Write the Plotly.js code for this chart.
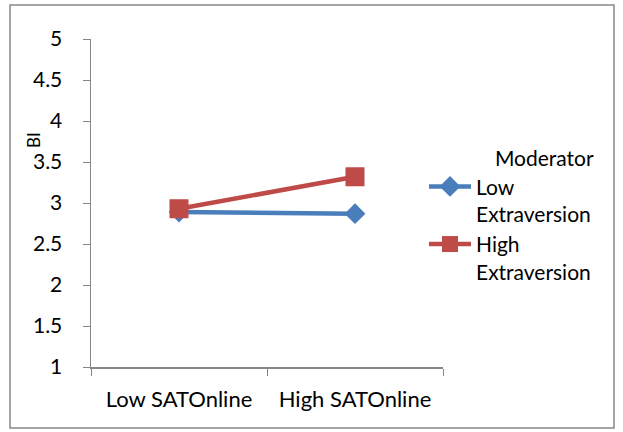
<!DOCTYPE html>
<html>
<head>
<meta charset="utf-8">
<script src="https://cdn.plot.ly/plotly-3.0.1.min.js"></script>
<style>
  html, body { margin: 0; padding: 0; background: #ffffff; }
  #chart { width: 623px; height: 432px; }
</style>
</head>
<body>
<div id="chart"></div>
<script>
// Interaction plot: behavioural intention (BI) by SAT Online level, moderated by extraversion
var categories = ["Low SATOnline", "High SATOnline"];
var lowExtraversion = [2.89, 2.87];
var highExtraversion = [2.93, 3.32];
var seriesNames = ["Low<br>Extraversion", "High<br>Extraversion"];
var yTicks = [1, 1.5, 2, 2.5, 3, 3.5, 4, 4.5, 5];

var W = 623, H = 432;
var M = { l: 91, r: 180, t: 39, b: 65 };
var plotW = W - M.l - M.r, plotH = H - M.t - M.b;
function px(x) { return (x - M.l) / plotW; }
function py(y) { return (H - M.b - y) / plotH; }

var font = "Lato, 'Open Sans', sans-serif";
var fs = 22;

var traces = [
  {
    x: categories, y: lowExtraversion, name: seriesNames[0],
    type: "scatter", mode: "lines+markers",
    line: { color: "#4a7ebb", width: 4.5 },
    marker: { symbol: "diamond", size: 16, color: "#4a7ebb" }
  },
  {
    x: categories, y: highExtraversion, name: seriesNames[1],
    type: "scatter", mode: "lines+markers",
    line: { color: "#be4b48", width: 4.5 },
    marker: { symbol: "square", size: 19, color: "#be4b48" }
  }
];

var layout = {
  width: W, height: H,
  margin: M,
  paper_bgcolor: "#ffffff",
  plot_bgcolor: "#ffffff",
  font: { family: font, size: fs, color: "#000000" },
  showlegend: true,
  legend: {
    x: px(424), y: py(139), xanchor: "left", yanchor: "top",
    valign: "top",
    itemwidth: 42,
    title: { text: "Moderator", side: "top right", font: { size: fs - 1 } },
    font: { size: fs - 1 },
    tracegroupgap: 0,
    bgcolor: "rgba(0,0,0,0)"
  },
  xaxis: {
    type: "category",
    range: [-0.5, 1.5],
    showline: true, linecolor: "#868686", linewidth: 1.5,
    ticks: "outside", tickson: "boundaries", ticklen: 7, tickcolor: "#868686",
    ticklabelstandoff: 12,
    showgrid: false, zeroline: false,
    tickfont: { size: fs }
  },
  yaxis: {
    range: [1, 5],
    tickvals: yTicks,
    ticktext: yTicks.map(String),
    showline: true, linecolor: "#868686", linewidth: 1.5,
    ticks: "outside", ticklen: 7, tickcolor: "#868686",
    ticklabelstandoff: 16,
    showgrid: false, zeroline: false,
    tickfont: { size: fs - 1 }
  },
  annotations: [
    {
      text: "BI", textangle: -90, showarrow: false,
      xref: "paper", yref: "paper",
      x: px(33), y: py(140), xanchor: "center", yanchor: "middle",
      font: { size: 17 }
    }
  ],
  shapes: [
    {
      type: "rect", xref: "paper", yref: "paper",
      x0: px(10), x1: px(614), y0: py(428), y1: py(5),
      line: { color: "#868686", width: 1.5 }, fillcolor: "rgba(0,0,0,0)",
      layer: "below"
    }
  ]
};

Plotly.newPlot("chart", traces, layout, { displayModeBar: false, staticPlot: true });
</script>
</body>
</html>
